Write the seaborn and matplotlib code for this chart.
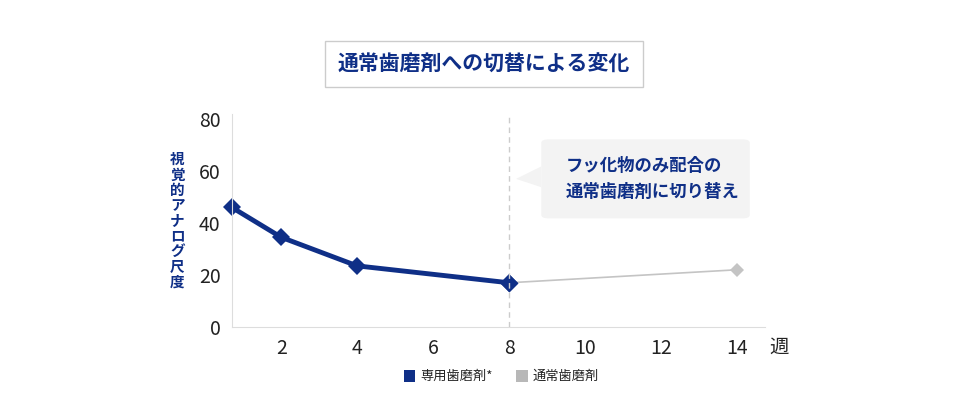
import seaborn as sns
import matplotlib.pyplot as plt
import pandas as pd
from matplotlib.patches import FancyBboxPatch, Polygon

weeks_own = [0.7, 2, 4, 8]
vas_own = [46, 34.5, 23.5, 17]
weeks_std = [8, 14]
vas_std = [17, 22]
xticks = [2, 4, 6, 8, 10, 12, 14]
yticks = [0, 20, 40, 60, 80]

navy = "#0f2f87"
gray = "#c4c4c4"

sns.set_style("white")
plt.rcParams["font.family"] = ["Noto Sans CJK JP", "DejaVu Sans"]

fig = plt.figure(figsize=(9.7, 4.16), dpi=100)
ax = fig.add_axes([0.239, 0.214, 0.55, 0.50])

df_own = pd.DataFrame({"w": weeks_own, "v": vas_own})
df_std = pd.DataFrame({"w": weeks_std, "v": vas_std})
sns.lineplot(data=df_std, x="w", y="v", ax=ax, color=gray, lw=1.2,
             marker="D", markersize=7, markeredgewidth=0, clip_on=False)
sns.lineplot(data=df_own, x="w", y="v", ax=ax, color=navy, lw=3.5,
             marker="D", markersize=9, markeredgewidth=0, clip_on=False)
ax.plot([8], [17], marker="D", color=navy, markersize=9, mec="none", clip_on=False)

ax.axvline(8, color="#cccccc", lw=1, ls=(0, (4, 3)), ymax=1.02, clip_on=False)
ax.set_xlim(0.7, 14.75)
ax.set_ylim(0, 80)
ax.set_xticks(xticks)
ax.set_yticks(yticks)
ax.tick_params(labelsize=14, colors="#222222", length=0, pad=8)
ax.set_xlabel("")
ax.set_ylabel("")
for s in ["top", "right"]:
    ax.spines[s].set_visible(False)
for s in ["left", "bottom"]:
    ax.spines[s].set_color("#dddddd")
ax.spines["left"].set_bounds(0, 82)

fig.text(0.793, 0.165, "週", fontsize=14, color="#222222", va="center")
fig.text(0.183, 0.47, "\n".join("視覚的アナログ尺度"), fontsize=10.5, color=navy,
         fontweight="bold", ha="center", va="center", linespacing=0.95)

fig.text(0.499, 0.845, "通常歯磨剤への切替による変化", fontsize=15, color=navy,
         fontweight="bold", ha="center", va="center",
         bbox=dict(boxstyle="square,pad=0.6", fc="white", ec="#cccccc", lw=1))

box = FancyBboxPatch((0.558, 0.475), 0.215, 0.19, boxstyle="round,pad=0,rounding_size=0.008",
                     transform=fig.transFigure, fc="#f3f3f3", ec="none")
fig.patches.append(box)
fig.patches.append(Polygon([(0.558, 0.6), (0.532, 0.57), (0.558, 0.55)],
                           closed=True, transform=fig.transFigure, fc="#f3f3f3", ec="none"))
fig.text(0.583, 0.57, "フッ化物のみ配合の\n通常歯磨剤に切り替え", fontsize=12.5, color=navy,
         fontweight="bold", va="center", linespacing=1.6)

fig.patches.append(plt.Rectangle((0.416, 0.082), 0.012, 0.028, transform=fig.transFigure,
                                 fc=navy, ec="none"))
fig.text(0.433, 0.096, "専用歯磨剤*", fontsize=9.5, color="#222222", va="center")
fig.patches.append(plt.Rectangle((0.532, 0.082), 0.012, 0.028, transform=fig.transFigure,
                                 fc="#b8b8b8", ec="none"))
fig.text(0.549, 0.096, "通常歯磨剤", fontsize=9.5, color="#222222", va="center")

fig.savefig("out.png", dpi=100)
